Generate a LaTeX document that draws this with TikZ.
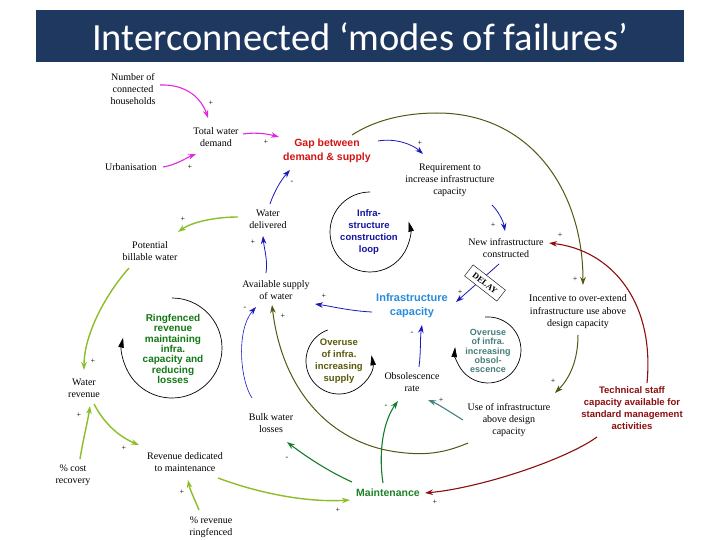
\documentclass[tikz,border=0pt]{standalone}
\usepackage{fontspec}
\setmainfont{Liberation Serif}
\newfontfamily\arialfont{Liberation Sans}
\newfontfamily\titlefont{Carlito}
\usetikzlibrary{arrows.meta}
\definecolor{cbanner}{RGB}{31,56,96}
\definecolor{cmag}{RGB}{225,40,225}
\definecolor{cblue}{RGB}{25,25,190}
\definecolor{cyg}{RGB}{140,190,40}
\definecolor{cdg}{RGB}{20,125,40}
\definecolor{colive}{RGB}{85,85,20}
\definecolor{cteal}{RGB}{70,130,130}
\definecolor{cdred}{RGB}{140,15,15}
\definecolor{cred}{RGB}{210,20,20}
\definecolor{clb}{RGB}{40,140,220}
\definecolor{cloopblue}{RGB}{20,20,160}
\definecolor{cring}{RGB}{20,120,20}
\definecolor{coltext}{RGB}{90,90,10}
\definecolor{ctealtext}{RGB}{70,125,125}
\definecolor{cmaint}{RGB}{30,130,40}
\begin{document}
\begin{tikzpicture}[x=1pt,y=-1pt,
  lbl/.style={font=\fontsize{10}{12}\selectfont, align=center, inner sep=1pt},
  bl/.style={align=center, inner sep=1pt},
  sgn/.style={font=\fontsize{8}{8}\selectfont, inner sep=0pt},
  arr/.style={-{Stealth[length=8pt,width=5.5pt]}},
  magl/.style={arr, draw=cmag, line width=1.1pt},
  bluel/.style={arr, draw=cblue, line width=0.8pt},
  ygl/.style={arr, draw=cyg, line width=1.4pt},
  dgl/.style={arr, draw=cdg, line width=1.1pt},
  oll/.style={arr, draw=colive, line width=1pt},
  tll/.style={arr, draw=cteal, line width=1.1pt},
  drl/.style={arr, draw=cdred, line width=1.1pt},
  loopc/.style={line width=0.7pt, -{Triangle[length=10pt,width=5.5pt]}}]
\useasboundingbox (0,0) rectangle (720,540);
\fill[white] (0,0) rectangle (720,540);
% title banner
\fill[cbanner] (36,10) rectangle (684,62);
\node[text=white, font=\titlefont\fontsize{38.5}{42}\selectfont, inner sep=0pt] (title) at (360,37) {Interconnected ‘modes of failures’};

% variable nodes
\node[lbl] (hh) at (133,89) {Number of\\connected\\households};
\node[lbl] (twd) at (216,137) {Total water\\demand};
\node[lbl] (urb) at (131,167) {Urbanisation};
\node[bl, text=cred, font=\arialfont\bfseries\fontsize{10.5}{14}\selectfont] (gap) at (327,151) {Gap between\\demand \& supply};
\node[lbl] (req) at (450,180) {Requirement to\\increase infrastructure\\capacity};
\node[lbl] (ni) at (506,248) {New infrastructure\\constructed};
\node[lbl] (wd) at (268,219) {Water\\delivered};
\node[lbl] (pbw) at (150,251) {Potential\\billable water};
\node[lbl] (avail) at (276,290) {Available supply\\of water};
\node[bl, text=clb, font=\arialfont\bfseries\fontsize{11}{14}\selectfont] (ic) at (412,306) {Infrastructure\\capacity};
\node[lbl, font=\fontsize{10}{12.5}\selectfont] (inc) at (578,312) {Incentive to over-extend\\infrastructure use above\\design capacity};
\node[lbl] (obs) at (412,382) {Obsolescence\\rate};
\node[lbl] (wr) at (84,388) {Water\\revenue};
\node[lbl] (bwl) at (271,423) {Bulk water\\losses};
\node[lbl] (use) at (509,420) {Use of infrastructure\\above design\\capacity};
\node[bl, text=cdred, font=\arialfont\bfseries\fontsize{9.5}{12}\selectfont] (tsc) at (632,408) {Technical staff\\capacity available for\\standard management\\activities};
\node[lbl] (rdm) at (185,462) {Revenue dedicated\\to maintenance};
\node[lbl] (pcr) at (73,475) {\% cost\\recovery};
\node[bl, text=cmaint, font=\arialfont\bfseries\fontsize{10.5}{12}\selectfont] (maint) at (388,493) {Maintenance};
\node[lbl] (prr) at (211,527) {\% revenue\\ringfenced};

% loop labels
\node[bl, text=cloopblue, font=\arialfont\bfseries\fontsize{9.5}{12}\selectfont] (loopA) at (369,232) {Infra-\\structure\\construction\\loop};
\node[bl, text=cring, font=\arialfont\bfseries\fontsize{10}{10.3}\selectfont] (loopB) at (173,349) {Ringfenced\\revenue\\maintaining\\infra.\\capacity and\\reducing\\losses};
\node[bl, text=coltext, font=\arialfont\bfseries\fontsize{9.5}{12}\selectfont] (loopC) at (339,361) {Overuse\\of infra.\\increasing\\supply};
\node[bl, text=ctealtext, font=\arialfont\bfseries\fontsize{9}{9.2}\selectfont] (loopD) at (488,351) {Overuse\\of infra.\\increasing\\obsol-\\escence};

% loop circles
\draw[loopc] (370,192) arc[start angle=-90, end angle=-375, radius=40];
\draw[loopc] (172,298) arc[start angle=-90, end angle=192, radius=50];
\draw[loopc] (327.7,330) arc[start angle=-110, end angle=-370, radius=33];
\draw[loopc] (485.1,317.1) arc[start angle=-95, end angle=185, radius=33];

% magenta
\draw[magl] ([shift={(27,-4)}]hh.center) .. controls (188,84) and (202,100) .. ([shift={(-8,-19)}]twd.center);
\draw[magl] ([shift={(32,0)}]urb.center) .. controls (176,165) and (186,158) .. ([shift={(-20,17)}]twd.center);
\draw[magl] ([shift={(27,-3)}]twd.center) .. controls (256,132) and (268,134) .. ([shift={(-48,-14)}]gap.center);

% blue
\draw[bluel] ([shift={(2,-15)}]wd.center) .. controls (274,192) and (281,180) .. ([shift={(-37,19)}]gap.center);
\draw[bluel] ([shift={(51,-10)}]gap.center) .. controls (395,138) and (412,144) .. ([shift={(-27,-26)}]req.center);
\draw[bluel] ([shift={(42,25)}]req.center) .. controls (498,211) and (503,220) .. ([shift={(-1,-17)}]ni.center);
\draw[bluel] ([shift={(-7,16)}]ni.center) -- ([shift={(44,-4)}]ic.center);
\draw[bluel] ([shift={(-10,-17)}]avail.center) .. controls (268,260) and (264,248) .. ([shift={(-5,17)}]wd.center);
\draw[bluel] ([shift={(-40,6)}]ic.center) .. controls (350,311) and (330,306) .. ([shift={(39,14)}]avail.center);
\draw[bluel] ([shift={(7,-15)}]obs.center) .. controls (421,352) and (420,338) .. ([shift={(10,19)}]ic.center);
\draw[bluel, line width=0.6pt] ([shift={(-19,-25)}]bwl.center) .. controls (240,380) and (236,330) .. ([shift={(-20,17)}]avail.center);

% DELAY
\node[draw, fill=white, rotate=-38, minimum width=41pt, minimum height=14pt, inner sep=1pt, font=\bfseries\fontsize{8.5}{8.5}\selectfont] (delay) at (485,283) {DELAY};

% yellow-green
\draw[ygl] ([shift={(-30,-2)}]wd.center) .. controls (215,217) and (192,222) .. ([shift={(28,-19)}]pbw.center);
\draw[ygl] ([shift={(-21,17)}]pbw.center) .. controls (105,295) and (84,335) .. ([shift={(0,-18)}]wr.center);
\draw[ygl] ([shift={(7,-16)}]pcr.center) .. controls (83,440) and (88,420) .. ([shift={(6,18)}]wr.center);
\draw[ygl] ([shift={(10,16)}]wr.center) .. controls (105,425) and (120,437) .. ([shift={(-46,-17)}]rdm.center);
\draw[ygl] ([shift={(-12,-17)}]prr.center) .. controls (195,500) and (190,490) .. ([shift={(3,18)}]rdm.center);
\draw[ygl] ([shift={(33,16)}]rdm.center) .. controls (250,490) and (300,503) .. ([shift={(-38,7)}]maint.center);

% dark green
\draw[dgl] ([shift={(-36,-11)}]maint.center) .. controls (325,470) and (300,452) .. ([shift={(16,19)}]bwl.center);
\draw[dgl] ([shift={(-5,-10)}]maint.center) .. controls (378,450) and (384,420) .. ([shift={(-14,19)}]obs.center);

% olive
\draw[oll] ([shift={(25,-16)}]gap.center) .. controls (375,120) and (405,113) .. (437,113) .. controls (530,113) and (583,190) .. ([shift={(5,-27)}]inc.center);
\draw[oll] ([shift={(0,23)}]inc.center) .. controls (578,360) and (570,378) .. ([shift={(46,-27)}]use.center);
\draw[oll] ([shift={(-41,23)}]use.center) .. controls (440,455) and (420,455) .. (397,452) .. controls (330,443) and (282,390) .. ([shift={(-4,15)}]avail.center);

% teal
\draw[tll] ([shift={(-46,0)}]use.center) .. controls (450,412) and (438,404) .. ([shift={(16,18)}]obs.center);

% dark red
\draw[drl] ([shift={(15,-25)}]tsc.center) .. controls (655,300) and (610,250) .. ([shift={(43,-5)}]ni.center);
\draw[drl] ([shift={(-35,29)}]tsc.center) .. controls (565,460) and (480,488) .. ([shift={(37,0)}]maint.center);

% polarity signs
\node[sgn] (s1) at (211,103) {+};
\node[sgn] (s2) at (190,167) {+};
\node[sgn] (s3) at (266,142) {+};
\node[sgn] (s4) at (292,182) {-};
\node[sgn] (s5) at (420,143) {+};
\node[sgn] (s6) at (493,225) {+};
\node[sgn] (s7) at (460,292) {+};
\node[sgn] (s8) at (253,242) {+};
\node[sgn] (s9) at (324,296) {+};
\node[sgn] (s10) at (412,333) {-};
\node[sgn] (s11) at (245,308) {-};
\node[sgn] (s12) at (183,219) {+};
\node[sgn] (s13) at (93,361) {+};
\node[sgn] (s14) at (79,415) {+};
\node[sgn] (s15) at (124,448) {+};
\node[sgn] (s16) at (182,492) {+};
\node[sgn] (s17) at (338,510) {+};
\node[sgn] (s18) at (287,458) {-};
\node[sgn] (s19) at (386,406) {-};
\node[sgn] (s20) at (575,279) {+};
\node[sgn] (s21) at (553,381) {+};
\node[sgn] (s22) at (283,316) {+};
\node[sgn] (s23) at (441,400) {+};
\node[sgn] (s24) at (560,235) {+};
\node[sgn] (s25) at (435,502) {+};
\end{tikzpicture}
\end{document}
